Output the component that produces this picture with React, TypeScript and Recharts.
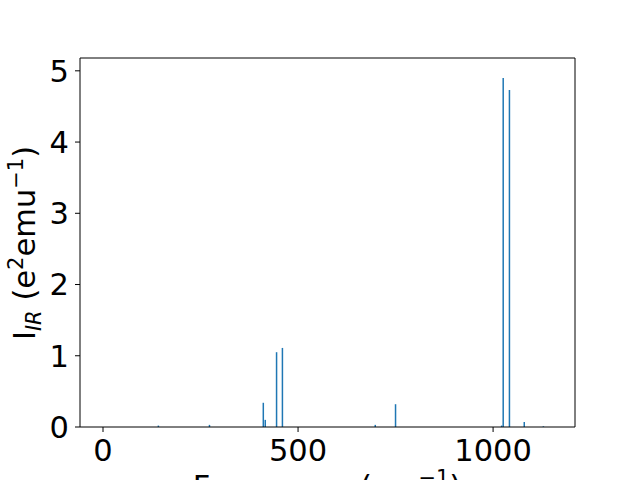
import { Bar, ComposedChart, ReferenceLine, XAxis, YAxis } from 'recharts';

const frequencies = [142, 273, 411, 416, 445, 460, 698, 750, 1022, 1026, 1042, 1080, 1129];
const intensities = [0.02, 0.03, 0.34, 0.1, 1.05, 1.11, 0.03, 0.32, 0.02, 4.9, 4.73, 0.07, 0.01];
const xTicks = [0, 500, 1000];
const yTicks = [0, 1, 2, 3, 4, 5];

const xMin = -59;
const xMax = 1210;
const yMax = 5.18;

const font = 'DejaVu Sans';
const fs = 30.5;
const barColor = '#1f77b4';

const data = frequencies.map((f, i) => ({ f, i: intensities[i] }));

function YLabel() {
  return (
    <text
      x={35}
      y={243}
      transform="rotate(-90, 35, 243)"
      textAnchor="middle"
      fontFamily={font}
      fontSize={fs}
      fill="#000"
    >
      I
      <tspan fontSize={21} fontStyle="italic" dy={6}>IR</tspan>
      <tspan dy={-6}> (e</tspan>
      <tspan fontSize={21} dy={-12}>2</tspan>
      <tspan dy={12}>emu</tspan>
      <tspan fontSize={21} dy={-12}>−1</tspan>
      <tspan dy={12}>)</tspan>
    </text>
  );
}

function XLabel() {
  return (
    <text x={327} y={497} textAnchor="middle" fontFamily={font} fontSize={fs} fill="#000">
      Frequency (cm
      <tspan fontSize={21} dy={-12}>−1</tspan>
      <tspan dy={12}>)</tspan>
    </text>
  );
}

export default function App() {
  return (
    <div style={{ position: 'absolute', left: 0, top: 0, background: '#fff' }}>
      <ComposedChart
        width={640}
        height={480}
        data={data}
        margin={{ top: 58, right: 65, bottom: 0, left: 0 }}
      >
        <XAxis
          dataKey="f"
          type="number"
          domain={[xMin, xMax]}
          ticks={xTicks}
          allowDataOverflow
          height={53}
          tick={{ fontSize: fs, fill: '#000', fontFamily: font }}
          tickSize={5}
          tickMargin={7}
          stroke="#000"
          tickLine={{ stroke: '#000' }}
          axisLine={{ stroke: '#000' }}
          label={{ content: () => <XLabel /> }}
        />
        <YAxis
          type="number"
          domain={[0, yMax]}
          ticks={yTicks}
          allowDataOverflow
          width={80}
          tick={{ fontSize: fs, fill: '#000', fontFamily: font }}
          tickSize={5}
          tickMargin={6}
          stroke="#000"
          tickLine={{ stroke: '#000' }}
          axisLine={{ stroke: '#000' }}
          label={{ content: () => <YLabel /> }}
        />
        <ReferenceLine y={yMax} stroke="#000" />
        <ReferenceLine x={xMax} stroke="#000" />
        <Bar dataKey="i" fill={barColor} barSize={1.5} isAnimationActive={false} />
      </ComposedChart>
    </div>
  );
}
